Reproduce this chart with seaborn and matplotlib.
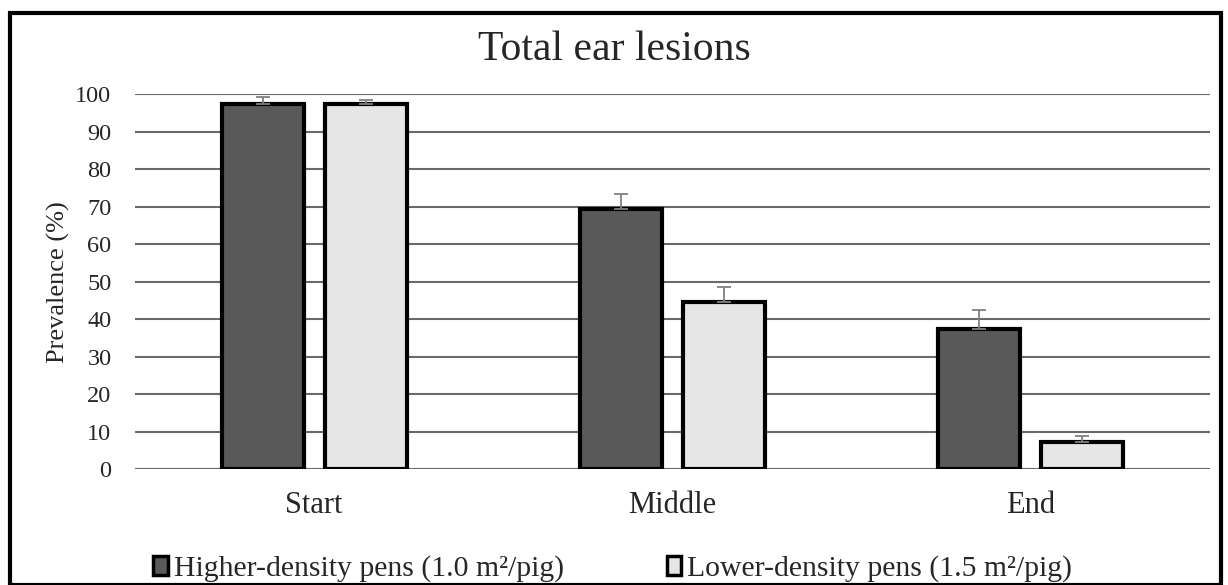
import matplotlib
import matplotlib.pyplot as plt
import seaborn as sns
import pandas as pd
from matplotlib.patches import Rectangle, Patch

matplotlib.use('Agg')

# values
stages = ["Start", "Middle", "End"]
groups = ["Higher-density pens (1.0 m²/pig)", "Lower-density pens (1.5 m²/pig)"]
higher = [97.5, 69.5, 37.5]
lower = [97.3, 44.7, 7.3]
higher_err = [1.8, 4.0, 5.0]
lower_err = [1.2, 3.8, 1.6]
yticks = list(range(0, 101, 10))

df = pd.DataFrame({
    "stage": stages * 2,
    "group": [groups[0]] * 3 + [groups[1]] * 3,
    "value": higher + lower,
})
colors = {groups[0]: "#595959", groups[1]: "#e7e6e6"}

sns.set_style("white")
plt.rcParams['font.family'] = ['Liberation Serif', 'DejaVu Serif']

fig = plt.figure(figsize=(12.28, 5.85), dpi=100)
ax = fig.add_axes([0.110, 0.198, 0.875, 0.641])

sns.barplot(data=df, x="stage", y="value", hue="group", palette=colors,
            width=0.576, gap=0.205, edgecolor="black", linewidth=3,
            legend=False, ax=ax)

# error bars (upper half only, like the source)
errs = higher_err + lower_err
for bar, e in zip(ax.patches, errs):
    x = bar.get_x() + bar.get_width() / 2
    top = bar.get_height()
    ax.errorbar(x, top, yerr=[[0], [e]], fmt="none", ecolor="#808080",
                elinewidth=1.3, capsize=5, capthick=1.3, zorder=1)

ax.set_ylim(0, 100)
ax.set_xlim(-0.5, 2.5)
ax.set_yticks(yticks)
ax.yaxis.grid(True, color="#6a6a6a", linewidth=1.5, zorder=0)
ax.set_axisbelow(True)
ax.axhline(0, color="#d9d9d9", linewidth=1.5, zorder=0)
for s in ax.spines.values():
    s.set_visible(False)
ax.tick_params(axis="y", length=0, labelsize=17.5, pad=17)
ax.tick_params(axis="x", length=0, labelsize=22, pad=16)
ax.set_xlabel("")
ax.set_ylabel("Prevalence (%)", fontsize=19, labelpad=4)

fig.text(0.5, 0.915, "Total ear lesions", ha="center", va="center", fontsize=30)

handles = [Patch(facecolor=colors[g], edgecolor="black", linewidth=2.5) for g in groups]
fig.legend(handles, groups, loc="center", bbox_to_anchor=(0.499, 0.028), ncol=2,
           frameon=False, fontsize=21.4, handlelength=0.5, handleheight=0.6,
           handletextpad=0.2, columnspacing=3.45)

fig.patches.append(Rectangle((0.008, 0.0), 0.986, 0.978, transform=fig.transFigure,
                             fill=False, edgecolor="black", linewidth=3))

plt.savefig("out.png", dpi=100, facecolor="white")
